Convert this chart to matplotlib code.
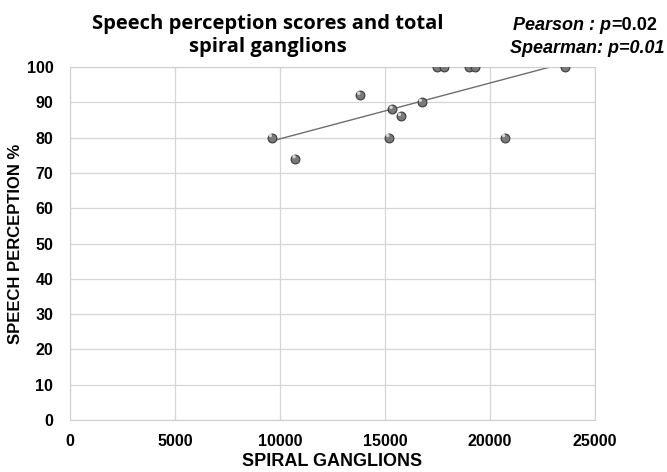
import numpy as np
import matplotlib
matplotlib.use("Agg")
from matplotlib import pyplot as plt

# values
ganglions = [9600, 10730, 13810, 15190, 15350, 15750, 16740,
             17460, 17810, 19015, 19285, 20710, 23570]
speech = [80, 74, 92, 80, 88, 86, 90, 100, 100, 100, 100, 80, 100]
x_ticks = [0, 5000, 10000, 15000, 20000, 25000]
y_ticks = [0, 10, 20, 30, 40, 50, 60, 70, 80, 90, 100]

plt.rcParams['font.family'] = ['Liberation Sans', 'DejaVu Sans']

fig = plt.figure(figsize=(6.67, 4.72), dpi=100)
ax = fig.add_axes([0.105, 0.11, 0.787, 0.748])

# regression line
x = np.array(ganglions, dtype=float)
y = np.array(speech, dtype=float)
k, b = np.polyfit(x, y, 1)
xl = np.array([x.min(), x.max()])
ax.plot(xl, k * xl + b, color='#6e6e6e', lw=1.0, zorder=2)

# points (shaded balls)
ax.scatter(x, y, s=40, color='#7a7a7a', edgecolors='#3a3a3a', linewidths=0.8, zorder=3)
ax.scatter(x - 60, y + 0.6, s=6, color='#d8d8d8', edgecolors='none', zorder=4)

ax.set_xlim(0, 25000)
ax.set_ylim(0, 100)
ax.set_xticks(x_ticks)
ax.set_yticks(y_ticks)
ax.grid(True, color='#d6d6d6', lw=0.9)
ax.set_axisbelow(True)
for s in ax.spines.values():
    s.set_color('#cfcfcf')
ax.tick_params(length=0, labelsize=11.5)
ax.tick_params(axis='y', pad=12)
ax.tick_params(axis='x', pad=10)
for lab in ax.get_xticklabels() + ax.get_yticklabels():
    lab.set_fontweight('bold')

ax.set_xlabel('SPIRAL GANGLIONS', fontsize=13, fontweight='bold')
ax.xaxis.set_label_coords(0.5, -0.092)
ax.set_ylabel('SPEECH PERCEPTION %', fontsize=12, fontweight='bold')
ax.yaxis.set_label_coords(-0.09, 0.5)

fig.text(0.402, 0.925, 'Speech perception scores and total\nspiral ganglions',
         ha='center', va='center', fontsize=14.5, fontweight='bold',
         family=['Open Sans', 'DejaVu Sans'], linespacing=1.25)

t1 = fig.text(0.769, 0.945, 'Pearson : p', ha='left', va='center',
              fontsize=13, fontweight='bold', style='italic')
fig.canvas.draw()
ax.annotate('=0.02', xy=(1, 0.5), xycoords=t1, ha='left', va='center',
            fontsize=13, fontweight='bold')
fig.text(0.765, 0.898, 'Spearman: p=0.01', ha='left', va='center',
         fontsize=13, fontweight='bold', style='italic')

plt.savefig('out.png', dpi=100)
